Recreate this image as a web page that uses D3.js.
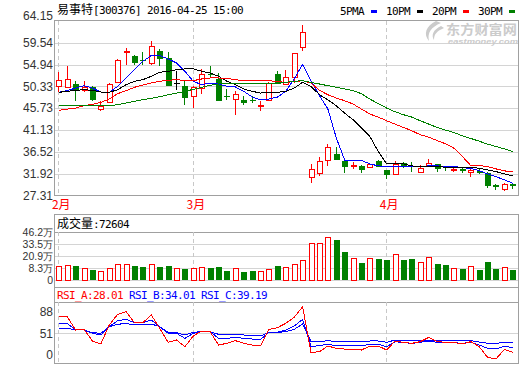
<!DOCTYPE html>
<html lang="zh">
<head>
<meta charset="UTF-8">
<script src="https://cdn.jsdelivr.net/npm/d3@7"></script>
<style>
  body { margin: 0; background: #fff; }
  svg { display: block; }
</style>
<title>易事特 K线</title>
</head>
<body>
<script>
// daily K-line for 易事特 with MA, volume and RSI panels

const dates = [
  '02-01','02-02','02-03','02-04','02-05','02-15','02-16','02-17','02-18','02-19',
  '02-22','02-23','02-24','02-25','02-26','02-29',
  '03-01','03-02','03-03','03-04','03-07','03-08','03-09','03-10','03-11',
  '03-14','03-15','03-16','03-17','03-18','03-21','03-22','03-23','03-24','03-25',
  '03-28','03-29','03-30','03-31',
  '04-01','04-05','04-06','04-07','04-08','04-11','04-12','04-13','04-14','04-15',
  '04-18','04-19','04-20','04-21','04-22','04-25'
];

const open  = [50.36,50.22,50.92,49.44,50.15,45.56,47.11,51.42,57.63,56.85,
               56.00,55.30,57.91,56.35,51.00,50.36,48.24,50.00,52.97,51.98,
               48.24,47.82,47.53,47.46,46.19,47.39,52.97,50.92,52.33,58.68,
               31.16,32.01,34.83,36.10,34.62,33.70,33.63,33.35,34.62,32.72,
               31.94,34.12,33.49,32.36,33.42,33.91,33.42,32.79,32.86,32.15,
               32.57,32.15,29.61,28.62,29.75];
const close = [51.70,51.91,49.51,50.15,47.39,46.26,50.85,56.00,57.84,55.30,
               55.93,58.82,56.14,50.36,51.00,47.74,50.15,52.97,52.68,47.39,
               48.03,48.80,46.97,47.25,46.33,51.06,50.85,52.33,57.41,61.86,
               32.86,34.62,37.51,34.83,33.42,33.84,32.86,34.05,33.42,31.66,
               33.98,33.42,33.28,33.14,34.12,32.93,33.21,32.93,32.36,32.65,
               32.15,29.40,29.19,29.75,29.33];
const high  = [53.32,54.59,51.56,51.56,50.36,47.18,51.06,56.14,58.47,56.99,
               57.63,60.02,58.26,57.63,53.53,51.42,50.36,54.03,54.59,53.18,
               49.86,49.44,48.38,48.38,47.32,51.27,53.53,53.74,57.41,63.41,
               33.98,35.54,38.22,37.51,34.69,34.48,33.70,34.27,34.83,32.79,
               34.55,34.48,34.34,33.77,35.04,33.98,33.63,33.42,33.07,33.00,
               32.86,32.36,29.68,29.89,29.89];
const low   = [49.09,50.00,47.18,49.23,47.18,45.06,46.83,51.06,54.94,54.94,
               54.94,54.94,54.73,50.36,49.65,46.47,45.77,48.80,52.12,47.39,
               47.53,44.22,46.47,46.83,45.06,47.32,50.78,50.57,51.06,57.77,
               30.03,31.44,33.63,34.76,32.15,33.00,32.15,33.21,33.35,30.88,
               31.80,33.21,32.29,32.22,33.35,32.36,32.57,32.36,32.15,31.30,
               31.87,28.97,28.48,28.34,28.62];

const ma5  = [49.09,49.44,50.00,50.50,50.00,49.16,49.09,50.36,52.12,53.88,
              55.65,56.85,56.85,56.14,55.30,53.53,51.42,50.71,51.06,50.85,
              50.36,50.22,49.30,48.10,47.53,47.67,48.10,49.30,51.91,55.00,
              51.50,48.40,45.60,39.50,34.80,34.69,34.69,33.98,33.56,33.42,
              33.42,33.42,33.42,33.42,33.56,33.56,33.42,33.42,33.21,33.00,
              32.57,31.87,31.30,30.60,29.89];
const ma10 = [49.09,49.30,49.51,49.65,49.51,49.16,49.09,49.65,50.71,51.42,
              51.77,52.47,53.32,53.53,53.88,54.03,54.03,53.53,53.18,52.47,
              51.42,50.71,49.79,49.30,48.94,49.09,49.09,49.30,50.00,51.20,
              50.36,48.59,47.53,46.26,44.71,43.30,41.54,39.77,36.60,33.98,
              33.98,33.98,33.56,33.42,33.42,33.42,33.28,33.28,33.28,33.28,
              33.07,32.72,32.36,31.87,31.44];
const ma20 = [45.27,45.56,45.77,46.26,46.55,46.97,47.67,48.80,49.44,50.15,
              50.64,51.06,51.42,51.63,51.77,51.56,51.56,51.91,52.12,52.12,
              52.05,51.77,51.56,51.56,51.56,51.56,51.34,51.20,51.34,51.56,
              51.06,49.51,48.59,47.89,47.32,46.62,45.56,44.50,43.86,43.09,
              42.38,41.68,40.97,40.12,39.63,38.92,38.22,37.30,35.54,33.63,
              33.63,33.42,32.93,32.50,32.36];
const ma30 = [46.26,46.26,46.26,46.26,46.26,46.26,46.26,46.47,46.83,47.18,
              47.53,47.82,48.17,48.59,48.94,49.30,49.72,50.15,50.57,50.85,
              50.92,50.92,50.92,50.92,50.92,50.92,51.06,51.20,51.42,51.56,
              51.20,50.85,50.50,50.15,49.79,49.44,48.80,47.67,46.69,45.77,
              44.99,44.36,43.86,43.09,42.38,41.68,41.11,40.62,39.91,39.35,
              38.78,38.15,37.65,37.16,36.59];

// volume in 万手
const volume = [10.4,11.5,11.5,8.0,7.0,5.2,8.0,12.5,12.5,11.5,
                10.4,12.5,10.4,11.5,8.0,8.0,8.0,9.1,9.1,10.4,
                6.2,8.0,5.2,6.2,5.2,7.0,11.5,9.1,12.5,16.7,
                34.3,34.3,40.6,38.8,26.2,18.5,15.0,18.5,19.2,17.8,
                23.1,17.8,19.2,14.6,19.6,13.9,12.5,8.0,8.6,10.4,
                7.3,16.0,8.6,9.4,7.26];

const rsiA = [79.6,79.6,56.7,57.8,37.8,32.6,65.3,83.6,88.2,69.3,
              69.3,82.5,59.6,35.5,39.5,28.1,46.4,55.0,53.8,30.9,
              33.8,38.4,33.8,30.9,29.2,57.8,60.7,68.2,78.5,96.8,
              17.8,19.5,29.2,25.2,24.0,24.0,22.3,29.2,29.2,22.3,
              37.8,35.5,33.8,36.7,44.1,36.7,35.5,35.5,32.6,36.7,
              28.1,9.7,6.9,23.5,18.3];
const rsiB = [68.1,68.1,56.7,56.7,51.0,48.1,62.4,72.7,75.0,69.3,
              69.3,73.9,62.4,51.0,51.0,42.4,51.0,53.8,53.8,42.4,
              42.4,44.1,42.4,41.2,40.7,52.7,52.7,56.7,63.6,75.0,
              28.1,29.8,32.1,29.8,29.8,29.8,29.2,32.1,32.1,28.1,
              36.7,34.9,33.8,35.5,37.8,35.5,34.9,34.9,33.8,35.5,
              30.9,25.2,24.0,29.2,26.3];
const rsiC = [59.6,59.6,56.7,56.7,52.1,51.0,62.4,66.4,68.1,65.3,
              65.3,67.0,62.4,52.7,52.1,48.1,52.7,53.8,53.8,49.3,
              49.3,49.3,48.1,48.1,46.4,52.7,52.7,53.8,57.8,67.0,
              36.7,36.7,38.4,36.7,36.7,36.7,36.1,37.8,37.8,35.5,
              39.5,38.4,37.8,38.4,39.5,38.4,37.8,37.8,37.8,38.4,
              36.1,33.8,33.8,35.5,35.5];

const priceTicks = [64.15, 59.54, 54.94, 50.33, 45.73, 41.13, 36.52, 31.92, 27.31];
const volTicks = [46.2, 33.5, 20.9, 8.3];
const volFloor = -4.3;          // axis bottom, labelled "0"
const rsiTicks = [88, 51, 0];
const months = ['2月', '3月', '4月'];

const title = { name: '易事特', code: '[300376] 2016-04-25 15:00' };
const maLegend = [
  { label: '5PMA', color: '#0000ff', data: ma5 },
  { label: '10PM', color: '#000000', data: ma10 },
  { label: '20PM', color: '#ff0000', data: ma20 },
  { label: '30PM', color: '#008000', data: ma30 }
];
const rsiLegend = [
  { label: 'RSI_A:28.01', color: '#ff0000', data: rsiA },
  { label: 'RSI_B:34.01', color: '#0000ff', data: rsiB },
  { label: 'RSI_C:39.19', color: '#0000ff', data: rsiC }
];
const volTitle = { name: '成交量', value: ':72604' };

const RED = '#ff0000', GREEN = '#008000';
const GRID = '#d4d4d4', BORDER = '#a0a0a0';
const MONO = '"DejaVu Sans Mono", monospace';
const CJK = '"Noto Sans CJK SC", sans-serif';
const NUM = '"Liberation Sans", Arial, sans-serif';

let w = 520, h = 365;
let left = 54.5, right = 518.5;

let svg = d3.select('body').append('svg')
  .attr('width', w).attr('height', h)
  .attr('shape-rendering', 'crispEdges');

let x = d3.scalePoint().domain(dates).range([58.3, 512.3]);
let yPrice = d3.scaleLinear().domain([27.31, 64.15]).range([195.5, 21]);
let yVol = d3.scaleLinear().domain([volFloor, 46.2]).range([280, 232]);
let yRsi = d3.scaleLinear().domain([0, 104.8]).range([363, 302]);

let crisp = v => Math.round(v) + 0.5;
let monthStarts = dates.map((d, i) => i).filter(i => i === 0 || dates[i].slice(0, 2) !== dates[i - 1].slice(0, 2));

function hline(y, color, x0, x1) {
  svg.append('line').attr('x1', x0 || left).attr('x2', x1 || right)
    .attr('y1', crisp(y)).attr('y2', crisp(y)).attr('stroke', color);
}
function vdash(y0, y1) {
  svg.append('g').selectAll('line').data(monthStarts).enter().append('line')
    .attr('x1', i => crisp(x(dates[i]))).attr('x2', i => crisp(x(dates[i])))
    .attr('y1', y0).attr('y2', y1)
    .attr('stroke', '#c8c8c8').attr('stroke-dasharray', '4,3');
}
function frame(y0, y1) {
  svg.append('rect').attr('x', left).attr('y', y0)
    .attr('width', right - left).attr('height', y1 - y0)
    .attr('fill', 'none').attr('stroke', BORDER);
}
function mono(sel) {
  return sel.attr('font-family', MONO).attr('font-size', 11).attr('letter-spacing', -0.62);
}

// ---------- header ----------
let t = svg.append('text').attr('x', 57).attr('y', 14).attr('fill', '#000');
t.append('tspan').attr('font-family', CJK).attr('font-size', 12).text(title.name);
mono(t.append('tspan')).text(title.code);

let lg = svg.append('g').selectAll('g').data(maLegend).enter().append('g')
  .attr('transform', (d, i) => 'translate(' + (340 + i * 46) + ',0)');
mono(lg.append('text')).attr('y', 15).attr('fill', '#000').text(d => d.label);
lg.append('rect').attr('x', 31).attr('y', 10).attr('width', 6).attr('height', 3)
  .attr('fill', d => d.color);

// ---------- price panel ----------
priceTicks.slice(1, -1).forEach(v => hline(yPrice(v), GRID));
vdash(21, 195);

// watermark
let wm = svg.append('g').attr('fill', '#cbcbcb').attr('shape-rendering', 'auto');
wm.append('path').attr('d', 'M436 21 C426 26 423 34 429 41 C427 33 431 27 441 23 Z M441 26 C433 30 431 35 434 40 C434 34 437 31 444 28 Z');
wm.append('text').attr('x', 446).attr('y', 34).attr('font-family', CJK)
  .attr('font-size', 13).attr('font-weight', 'bold')
  .attr('textLength', 71).attr('lengthAdjust', 'spacingAndGlyphs').text('东方财富网');
wm.append('text').attr('x', 448).attr('y', 44).attr('font-family', NUM)
  .attr('font-size', 8).attr('font-weight', 'bold').attr('font-style', 'italic')
  .attr('textLength', 70).attr('lengthAdjust', 'spacingAndGlyphs').text('eastmoney.com');

frame(20.5, 195.5);

svg.append('g').selectAll('text').data(priceTicks).enter().append('text')
  .attr('x', 53).attr('y', (d, i) => yPrice(d) + (i === 0 ? -5 : 0))
  .attr('dy', '0.35em').attr('text-anchor', 'end')
  .attr('font-family', NUM).attr('font-size', 12).attr('fill', '#333')
  .text(d => d.toFixed(2));

// candles
let candleColor = i => close[i] > open[i] ? RED : (close[i] < open[i] ? GREEN : '#000');
let candles = svg.append('g').selectAll('g').data(dates).enter().append('g');
candles.append('line')
  .attr('x1', d => Math.round(x(d)) + 0.5).attr('x2', d => Math.round(x(d)) + 0.5)
  .attr('y1', (d, i) => yPrice(high[i])).attr('y2', (d, i) => yPrice(low[i]))
  .attr('stroke', (d, i) => candleColor(i));
candles.append('rect')
  .attr('x', (d, i) => Math.round(x(d)) - 2 + (close[i] > open[i] ? 0.5 : 0))
  .attr('y', (d, i) => Math.round(yPrice(Math.max(open[i], close[i]))) + (close[i] > open[i] ? 0.5 : 0))
  .attr('width', (d, i) => close[i] > open[i] ? 5 : 6)
  .attr('height', (d, i) => Math.max(1, Math.round(yPrice(Math.min(open[i], close[i])) - yPrice(Math.max(open[i], close[i])))))
  .attr('fill', (d, i) => close[i] > open[i] ? '#fff' : candleColor(i))
  .attr('stroke', (d, i) => close[i] > open[i] ? RED : 'none');

// moving averages
maLegend.forEach(m => {
  svg.append('path').datum(m.data)
    .attr('d', d3.line().x((v, i) => x(dates[i]) + 0.5).y(v => yPrice(v)))
    .attr('fill', 'none').attr('stroke', m.color).attr('stroke-width', 1);
});

// month labels
svg.append('g').selectAll('text').data(monthStarts).enter().append('text')
  .attr('x', i => x(dates[i]) + 3).attr('y', 209)
  .attr('text-anchor', 'middle').attr('font-family', CJK).attr('font-size', 12)
  .attr('fill', RED).text((d, k) => months[k]);

// ---------- volume panel ----------
volTicks.slice(1).forEach(v => hline(yVol(v), GRID));
hline(yVol(volFloor), GRID);
hline(232, BORDER);
vdash(232, 280);
frame(214.5, 287.5);

let vt = svg.append('text').attr('x', 57).attr('y', 228).attr('fill', '#000');
vt.append('tspan').attr('font-family', CJK).attr('font-size', 12).text(volTitle.name);
mono(vt.append('tspan')).text(volTitle.value);

let vl = svg.append('g').selectAll('text').data(volTicks.concat([volFloor])).enter().append('text')
  .attr('x', 53).attr('y', d => yVol(d)).attr('dy', '0.35em').attr('text-anchor', 'end')
  .attr('font-family', NUM).attr('font-size', 10.5).attr('fill', '#333');
vl.append('tspan').text(d => d === volFloor ? '0' : d);
vl.append('tspan').attr('font-family', NUM).attr('font-size', 10)
  .text(d => d === volFloor ? '' : '万');

let up = i => close[i] >= open[i];
svg.append('g').selectAll('rect').data(volume).enter().append('rect')
  .attr('x', (d, i) => Math.round(x(dates[i])) - 2 + (up(i) ? 0.5 : 0))
  .attr('y', d => Math.round(yVol(d)) + 0.5)
  .attr('width', (d, i) => up(i) ? 5 : 6)
  .attr('height', d => Math.round(yVol(volFloor)) - Math.round(yVol(d)) - 0.5)
  .attr('fill', (d, i) => up(i) ? '#fff' : GREEN)
  .attr('stroke', (d, i) => up(i) ? RED : 'none');

// ---------- RSI panel ----------
hline(yRsi(51), GRID);
hline(301.5, BORDER);
vdash(302, 363);
frame(287.5, 363.5);

let rx = 57;
rsiLegend.forEach(r => {
  mono(svg.append('text')).attr('x', rx).attr('y', 299).attr('fill', r.color).text(r.label);
  rx += (r.label.length + 1) * 6;
});

svg.append('g').selectAll('text').data(rsiTicks).enter().append('text')
  .attr('x', 53).attr('y', d => Math.min(yRsi(d), 355)).attr('dy', '0.35em')
  .attr('text-anchor', 'end').attr('font-family', NUM).attr('font-size', 12)
  .attr('fill', '#333').text(d => d);

rsiLegend.slice().reverse().forEach(r => {
  svg.append('path').datum(r.data)
    .attr('d', d3.line().x((v, i) => x(dates[i]) + 0.5).y(v => yRsi(v)))
    .attr('fill', 'none').attr('stroke', r.color).attr('stroke-width', 1);
});
</script>
</body>
</html>
